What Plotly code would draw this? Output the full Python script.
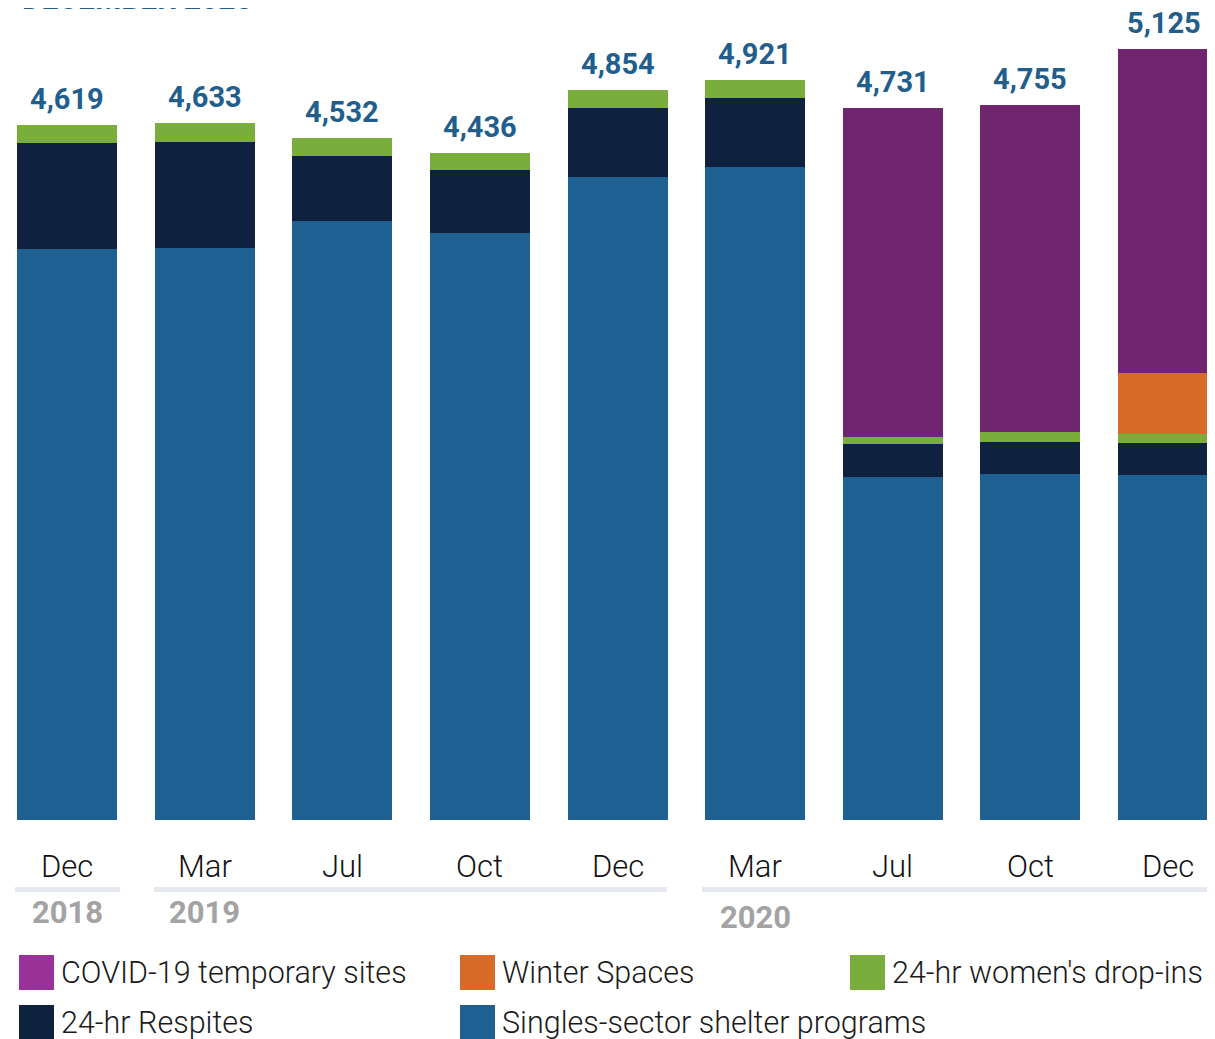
import plotly.graph_objects as go

# ---------------- data ----------------
months = ["Dec", "Mar", "Jul", "Oct", "Dec", "Mar", "Jul", "Oct", "Dec"]
years = ["2018", "2019", "", "", "", "2020", "", "", ""]
totals = [4619, 4633, 4532, 4436, 4854, 4921, 4731, 4755, 5125]

singles = [3794, 3802, 3980, 3901, 4272, 4339, 2278, 2297, 2291]
respites = [705, 705, 432, 419, 459, 459, 219, 213, 213]
womens = [120, 126, 120, 116, 123, 123, 47, 67, 60]
winter = [0, 0, 0, 0, 0, 0, 0, 0, 406]
covid = [0, 0, 0, 0, 0, 0, 2187, 2178, 2155]

series_names = ["COVID-19 temporary sites", "Winter Spaces", "24-hr women's drop-ins",
                "24-hr Respites", "Singles-sector shelter programs"]

# ---------------- styles ----------------
OFF = 8                      # page body margin
W, H = 1215 - 2 * OFF, 1039 - OFF
BASE = 820.5 - OFF           # baseline in figure pixels
PLOT_H = round(BASE)
MB = H - PLOT_H
C_BLUE = "#1F6092"
C_NAVY = "#0E2240"
C_GREEN = "#7AAE3C"
C_ORANGE = "#D76B27"
C_PURPLE = "#70266E"
C_PURPLE_LEG = "#993399"
C_LABEL = "#225E8C"
C_YEAR = "#A3A3A3"
FONT = "Roboto, 'Open Sans', sans-serif"

x = list(range(len(months)))

fig = go.Figure()
stack = [
    (series_names[4], singles, C_BLUE),
    (series_names[3], respites, C_NAVY),
    (series_names[2], womens, C_GREEN),
    (series_names[1], winter, C_ORANGE),
    (series_names[0], covid, C_PURPLE),
]
for name, vals, col in stack:
    fig.add_trace(go.Bar(x=x, y=vals, name=name, marker=dict(color=col, line=dict(width=0)),
                         showlegend=False, hoverinfo="skip"))

def py(p):
    """reference-page y pixel -> paper y"""
    return (PLOT_H - (p - OFF)) / PLOT_H

def px(p):
    """reference-page x pixel -> paper x"""
    return (p - OFF) / W

ann = []
shapes = []
# value labels
for i, t in enumerate(totals):
    ann.append(dict(x=i, y=t, xref="x", yref="y", text=f"{t:,}", showarrow=False,
                    yanchor="bottom", yshift=7, xshift=-4 if i == len(totals) - 1 else 0,
                    font=dict(family=FONT, size=29, color=C_LABEL, weight="bold")))
# month labels
for i, m in enumerate(months):
    ann.append(dict(x=i, y=py(866), xref="x", yref="paper", text=m, showarrow=False,
                    yanchor="middle", font=dict(family=FONT, size=31, color="#111111", weight=300)))
# year labels
year_y = {"2018": 912, "2019": 912, "2020": 917}
for i, yv in enumerate(years):
    if yv:
        ann.append(dict(x=i, y=py(year_y[yv]), xref="x", yref="paper", text=yv, showarrow=False,
                        yanchor="middle", font=dict(family=FONT, size=31, color=C_YEAR, weight="bold")))
# year separator lines
for a, b in [(-0.378, 0.385), (0.632, 4.36), (4.614, 8.5)]:
    shapes.append(dict(type="line", xref="x", yref="paper", x0=a, x1=b, y0=py(889.5), y1=py(889.5),
                       line=dict(color="#E6E9EF", width=5)))

# manual legend
leg_cols = [C_PURPLE_LEG, C_ORANGE, C_GREEN, C_NAVY, C_BLUE]
leg_pos = [(19, 955), (460, 955), (850, 955), (19, 1005), (460, 1005)]
for name, col, (lx, ly) in zip(series_names, leg_cols, leg_pos):
    shapes.append(dict(type="rect", xref="paper", yref="paper", x0=px(lx), x1=px(lx + 35),
                       y0=py(ly), y1=py(ly + 35), fillcolor=col, line=dict(width=0)))
    ann.append(dict(x=px(lx + 40), y=py(ly + 17), xref="paper", yref="paper", text=name,
                    showarrow=False, xanchor="left", yanchor="middle",
                    font=dict(family=FONT, size=30.5, color="#1a1a1a", weight=300)))

# clipped title at top
ann.append(dict(x=px(20), y=1, xref="paper", yref="paper", text="DECEMBER 2020", showarrow=False,
                xanchor="left", yanchor="middle", yshift=10,
                font=dict(family=FONT, size=30, color=C_LABEL, weight="bold")))

step = 137.625
c0 = 67 - OFF
fig.update_layout(
    width=W, height=H,
    barmode="stack", bargap=1 - 100 / step,
    margin=dict(l=0, r=0, t=0, b=MB),
    paper_bgcolor="white", plot_bgcolor="white",
    xaxis=dict(range=[-c0 / step, (W - c0) / step], showticklabels=False, showgrid=False,
               zeroline=False, showline=False, fixedrange=True),
    yaxis=dict(range=[0, (PLOT_H - (BASE - PLOT_H)) * 6.65], showticklabels=False,
               showgrid=False, zeroline=False, showline=False, fixedrange=True),
    annotations=ann, shapes=shapes,
)
fig.write_html("out.html")
